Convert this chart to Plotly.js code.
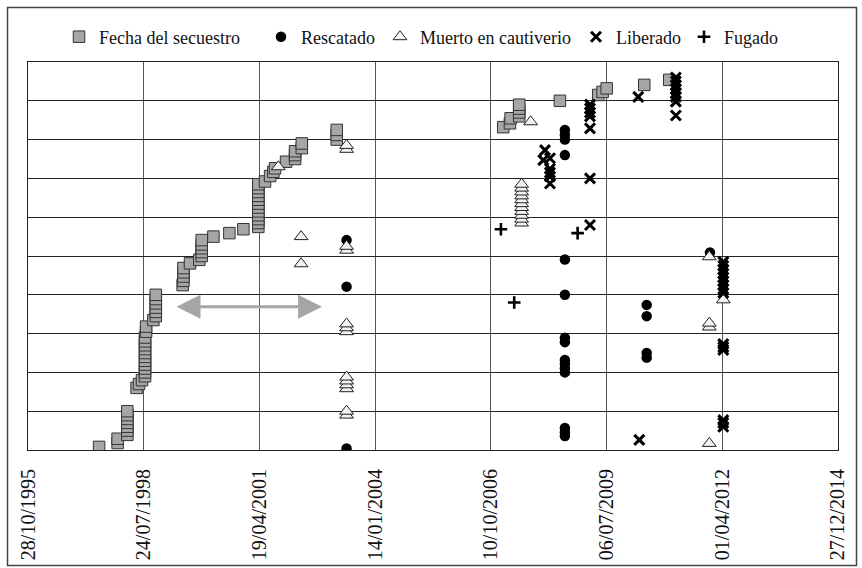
<!DOCTYPE html>
<html>
<head>
<meta charset="utf-8">
<script src="https://cdn.plot.ly/plotly-3.0.1.min.js"></script>
<style>
html,body{margin:0;padding:0;background:#fff;}
#chart{width:862px;height:568px;}
</style>
</head>
<body>
<div id="chart"></div>
<script>
// ---- Data ----
// Fecha del secuestro
const secuestroFechas = ["1997-07-03","1997-12-10","1998-03-04","1998-05-23","1998-06-13","1998-07-09","1998-08-04","1998-08-13","1998-10-15","1998-11-05","1999-06-25","1999-07-02","1999-08-28","1999-11-16","1999-12-07","2000-03-17","2000-08-02","2000-12-01","2001-04-09","2001-06-06","2001-07-20","2001-08-17","2001-09-01","2001-12-05","2002-02-21","2002-04-20","2003-02-16","2007-01-25","2007-03-24","2007-03-30","2007-06-12","2008-05-29","2009-04-25","2009-06-02","2009-07-07","2010-05-28","2010-12-30"];
const secuestroY = [[0.8],[1.8,2.9],[3.9,5,6,7,8,9,10],[16],[17],[18],[19,20,21,22,23,24,25,26,27,28,29],[30.5,31.8],[33.5],[34.5,35.6,36.7,37.8,38.9,40],[42.5],[43.6,44.7,45.8,46.9],[48.1],[49],[50,51,52,53,54.1],[55],[55.9],[56.9],[57.5,58.5,59.5,60.5,61.5,62.5,63.5,64.5,65.5,66.5,67.5,68.5],[69.2],[70.6],[71.7],[72.6],[74.3],[75,76,77],[77.8,79],[80,81.2,82.5],[83.2],[84.2],[85.5],[86,87,88,89],[90],[91.5],[92.3],[93.2],[94.1],[95.4]];
// Rescatado
const rescatadoFechas = ["2003-05-12","2008-07-11","2010-06-18","2011-12-17"];
const rescatadoY = [[0.4,42.1,54.1],[3.6,4.6,5.7,20,21.1,22.2,23.2,27.8,28.9,40,49.1,76,80,81.2,82.5],[23.8,25,34.5,37.4],[50.9]];
// Muerto en cautiverio
const muertoFechas = ["2001-09-29","2002-04-14","2003-05-12","2007-07-03","2007-09-19","2011-12-11","2012-04-10"];
const muertoY = [[73],[48,55],[9,10,15.8,16.8,17.8,18.8,30.5,31.5,32.5,51.5,52.5,77.5,78.5],[58.5,59.5,60.5,61.5,62.5,63.5,64.5,65.5,66.5,67.5,68.5],[84.6],[1.7,31.7,32.7,49.8],[38.7]];
// Liberado
const liberadoFechas = ["2008-01-06","2008-01-21","2008-03-04","2009-02-13","2010-04-06","2010-04-15","2011-02-25","2012-04-10"];
const liberadoY = [[74.7],[77.3],[68.7,70.5,71.5,72.5,75.2],[58,70,82.9,86,87,88,89],[91],[2.6],[86.2,89.8,91,92,93,94,95,96],[6,7,7.7,25.8,26.5,27.3,40.5,41.5,42.5,43.5,44.5,45.5,46.5,47.5,48.5]];
// Fugado
const fugadoFechas = ["2007-01-05","2007-04-30","2008-10-29"];
const fugadoY = [[56.9],[38],[55.9]];
// Axis ticks
const tickStart = "1995-10-28";
const tickStepDays = 1000;
const xRange = ["1995-10-27 12:00","2014-12-27 12:00"];
// Arrow annotation (period)
const flechaInicio = "1999-04-20", flechaFin = "2002-10-12", flechaY = 36.9;

// ---- Helpers ----
function flatten(fechas, ys){
  const x=[], y=[];
  fechas.forEach((f,i)=>ys[i].forEach(v=>{x.push(f);y.push(v);}));
  return {x,y};
}
const FONT = '"Liberation Serif","Times New Roman",serif';

const s1 = flatten(secuestroFechas, secuestroY);
const s2 = flatten(rescatadoFechas, rescatadoY);
const s3 = flatten(muertoFechas, muertoY);
const s4 = flatten(liberadoFechas, liberadoY);
const s5 = flatten(fugadoFechas, fugadoY);

const traces = [
  {name:'Fecha del secuestro', x:s1.x, y:s1.y, type:'scatter', mode:'markers', legend:'legend',
   marker:{symbol:'square', size:11.5, color:'#a6a6a6', line:{color:'#333', width:1}}},
  {name:'Rescatado', x:s2.x, y:s2.y, type:'scatter', mode:'markers', legend:'legend2',
   marker:{symbol:'circle', size:10.5, color:'#000', line:{color:'#000', width:0}}},
  {name:'Muerto en cautiverio', x:s3.x, y:s3.y, type:'scatter', mode:'markers', legend:'legend3',
   marker:{symbol:'triangle-up', size:12, color:'#f2f2f2', line:{color:'#222', width:1}}},
  {name:'Liberado', x:s4.x, y:s4.y, type:'scatter', mode:'markers', legend:'legend4',
   marker:{symbol:'x-thin-open', size:10, color:'#000', line:{color:'#000', width:3}}},
  {name:'Fugado', x:s5.x, y:s5.y, type:'scatter', mode:'markers', legend:'legend5',
   marker:{symbol:'cross-thin-open', size:9, color:'#000', line:{color:'#000', width:2.6}}}
];

const plotL=28, plotW=810, plotT=62, plotH=388;
function px2paperX(px){return (px-plotL)/plotW;}
function py2paperY(py){return (plotT+plotH-py)/plotH;}
const legY = py2paperY(37);
function leg(textStartPx){
  return {x:px2paperX(textStartPx-36), y:legY, xanchor:'left', yanchor:'middle',
          orientation:'h', bgcolor:'rgba(0,0,0,0)', borderwidth:0,
          font:{family:FONT, size:18, color:'#111'}};
}

const layout = {
  width:862, height:568,
  margin:{l:plotL, r:862-plotL-plotW, t:plotT, b:568-plotT-plotH, pad:0},
  paper_bgcolor:'#fff', plot_bgcolor:'#fff',
  font:{family:FONT, color:'#111'},
  showlegend:true,
  legend:leg(95), legend2:leg(297), legend3:leg(416), legend4:leg(612), legend5:leg(720),
  xaxis:{
    type:'date', range:xRange, tick0:tickStart, dtick:tickStepDays*86400000,
    tickformat:'%d/%m/%Y', tickangle:-90, ticks:'', ticklabelstandoff:10,
    tickfont:{family:FONT, size:20, color:'#111'},
    showgrid:true, gridcolor:'#555', gridwidth:1,
    showline:true, mirror:true, linecolor:'#222', linewidth:1, zeroline:false, fixedrange:true
  },
  yaxis:{
    range:[0,100], dtick:10, showticklabels:false, ticks:'',
    showgrid:true, gridcolor:'#222', gridwidth:1,
    showline:true, mirror:true, linecolor:'#222', linewidth:1, zeroline:false, fixedrange:true
  },
  annotations:[{
    x:flechaFin, y:flechaY, ax:flechaInicio, ay:flechaY, axref:'x', ayref:'y', xref:'x', yref:'y',
    text:'', showarrow:true, arrowside:'end+start', arrowhead:2, arrowsize:1.6, arrowwidth:3,
    arrowcolor:'#a6a6a6', standoff:0, startstandoff:0
  }],
  shapes:[{
    type:'rect', xref:'paper', yref:'paper',
    x0:px2paperX(7.5), x1:px2paperX(856.5), y0:py2paperY(565.5), y1:py2paperY(7.5),
    line:{color:'#444', width:1.5}, fillcolor:'rgba(0,0,0,0)', layer:'above'
  }]
};

Plotly.newPlot('chart', traces, layout, {displayModeBar:false, staticPlot:true});
</script>
</body>
</html>
